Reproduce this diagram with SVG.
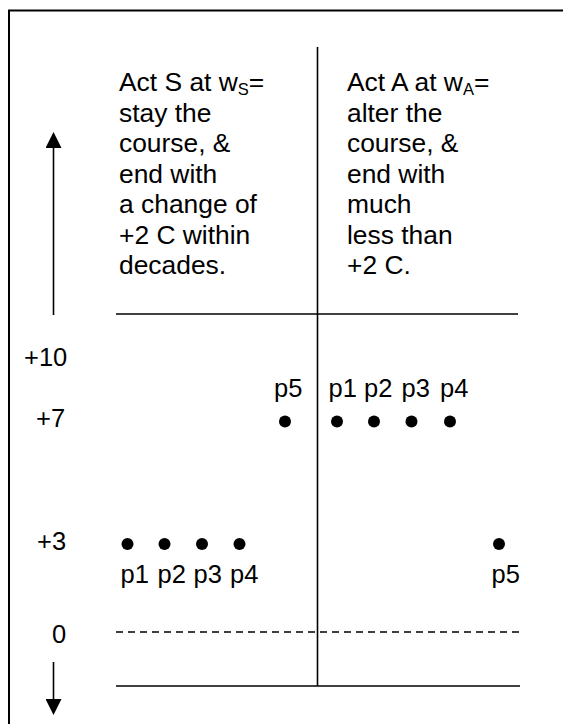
<svg xmlns="http://www.w3.org/2000/svg" width="563" height="724" viewBox="0 0 563 724">
  <style>
    text { font-family: "Liberation Sans", Arial, sans-serif; font-size: 25.5px; fill: #000; }
    .head text { font-size: 26.4px; }
    .sub { font-size: 16.5px; }
    .frame { stroke: #000; stroke-width: 2; fill: none; }
    .rule { stroke: #000; stroke-width: 1.6; fill: none; }
    .dash { stroke: #000; stroke-width: 1.5; stroke-dasharray: 7 5; fill: none; }
    .dot { fill: #000; }
  </style>
  <defs>
    <marker id="head" viewBox="0 0 16 16" refX="0" refY="8" markerWidth="16" markerHeight="16" markerUnits="userSpaceOnUse" orient="auto">
      <path d="M0,0 L16,8 L0,16 Z" fill="#000"/>
    </marker>
  </defs>

  <!-- outer frame: top and left edges -->
  <path class="frame" d="M9,724 V10.5 H563"/>

  <!-- table rules -->
  <g id="connectors">
    <line class="rule" x1="317.5" y1="47" x2="317.5" y2="686"/>
    <line class="rule" x1="116" y1="314" x2="518" y2="314"/>
    <line class="dash" x1="116" y1="632" x2="519" y2="632"/>
    <line class="rule" x1="116" y1="686" x2="520" y2="686"/>
    <!-- vertical scale arrows -->
    <line class="rule" x1="53.5" y1="315" x2="53.5" y2="148" marker-end="url(#head)"/>
    <line class="rule" x1="53.5" y1="662" x2="53.5" y2="699" marker-end="url(#head)"/>
  </g>

  <!-- column headings -->
  <g id="act-s" class="head">
    <text x="119" y="91">Act S at w<tspan class="sub" dy="4">S</tspan><tspan dy="-4">=</tspan></text>
    <text x="119" y="121.5">stay the</text>
    <text x="119" y="152">course, &amp;</text>
    <text x="119" y="182.5">end with</text>
    <text x="119" y="213">a change of</text>
    <text x="119" y="243.5">+2 C within</text>
    <text x="119" y="274">decades.</text>
  </g>
  <g id="act-a" class="head">
    <text x="347" y="91">Act A at w<tspan class="sub" dy="4">A</tspan><tspan dy="-4">=</tspan></text>
    <text x="347" y="121.5">alter the</text>
    <text x="347" y="152">course, &amp;</text>
    <text x="347" y="182.5">end with</text>
    <text x="347" y="213">much</text>
    <text x="347" y="243.5">less than</text>
    <text x="347" y="274">+2 C.</text>
  </g>

  <!-- scale values -->
  <g id="scale">
    <text x="24" y="366">+10</text>
    <text x="36" y="427">+7</text>
    <text x="37" y="550">+3</text>
    <text x="52" y="643">0</text>
  </g>

  <!-- outcomes of Act S -->
  <g id="s-outcomes">
    <circle class="dot" cx="127.5" cy="544" r="6"/>
    <circle class="dot" cx="164.5" cy="544" r="6"/>
    <circle class="dot" cx="202" cy="544" r="6"/>
    <circle class="dot" cx="239.5" cy="544" r="6"/>
    <text x="120.5" y="583">p1</text>
    <text x="157.5" y="583">p2</text>
    <text x="193.5" y="583">p3</text>
    <text x="230" y="583">p4</text>
    <circle class="dot" cx="285" cy="421.5" r="6"/>
    <text x="274" y="396.5">p5</text>
  </g>

  <!-- outcomes of Act A -->
  <g id="a-outcomes">
    <circle class="dot" cx="337" cy="421.5" r="6"/>
    <circle class="dot" cx="374" cy="421.5" r="6"/>
    <circle class="dot" cx="411.5" cy="421.5" r="6"/>
    <circle class="dot" cx="450" cy="421.5" r="6"/>
    <text x="328.5" y="396.5">p1</text>
    <text x="364" y="396.5">p2</text>
    <text x="401.5" y="396.5">p3</text>
    <text x="440" y="396.5">p4</text>
    <circle class="dot" cx="499" cy="544" r="6"/>
    <text x="491.5" y="583">p5</text>
  </g>
</svg>
